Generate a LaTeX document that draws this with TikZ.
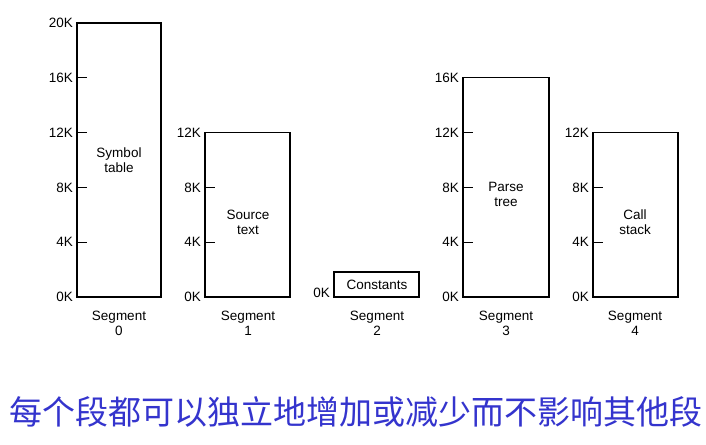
\documentclass[tikz,border=0pt]{standalone}
\usepackage{fontspec}
\setmainfont{Liberation Sans}
\newfontfamily\cjk{Noto Sans CJK SC}
\usetikzlibrary{positioning}
\definecolor{SegInk}{RGB}{0,0,0}
\definecolor{SegBlue}{RGB}{52,52,205}
\tikzset{
  seg/box/.style={
    draw=SegInk,
    line width=1.1pt,
    fill=white,
    inner sep=0pt,
    outer sep=0pt,
    anchor=south west
  },
  seg/tick/.style={draw=SegInk, line width=1.1pt},
  seg/ticklabel/.style={
    anchor=east,
    inner xsep=4pt,
    inner ysep=0pt,
    font=\fontsize{13.5}{15}\selectfont
  },
  seg/content/.style={
    anchor=north,
    align=center,
    inner sep=0pt,
    font=\fontsize{13.5}{15}\selectfont
  },
  seg/caption/.style={
    anchor=north,
    align=center,
    inner sep=0pt,
    font=\fontsize{13.5}{15}\selectfont
  },
  seg/note/.style={font=\cjk\fontsize{33}{38}\selectfont, text=SegBlue, inner sep=0pt}
}
\begin{document}
\begin{tikzpicture}[x=1pt,y=-1pt]
  \useasboundingbox (0,0) rectangle (706,444);

  % the five segments, 13.7 units per K
  \node[seg/box,minimum width=84pt,minimum height=274pt] (seg0) at (77,297) {};
  \node[seg/box,minimum width=85pt,minimum height=164.4pt] (seg1) at (205,297) {};
  \node[seg/box,minimum width=85pt,minimum height=25pt] (seg2) at (334,297) {};
  \node[seg/box,minimum width=86pt,minimum height=219.2pt] (seg3) at (463,297) {};
  \node[seg/box,minimum width=85pt,minimum height=164.4pt] (seg4) at (593,297) {};

  % ticks and scale labels
  \foreach \k in {4,8,12,16} \draw[seg/tick] (seg0.south west) ++(0,-13.7*\k) -- ++(10,0);
  \foreach \k in {4,8} \draw[seg/tick] (seg1.south west) ++(0,-13.7*\k) -- ++(10,0);
  \foreach \k in {4,8,12} \draw[seg/tick] (seg3.south west) ++(0,-13.7*\k) -- ++(10,0);
  \foreach \k in {4,8} \draw[seg/tick] (seg4.south west) ++(0,-13.7*\k) -- ++(10,0);

  \foreach \k in {0,4,8,12,16,20} \path (seg0.south west) ++(0,-13.7*\k) node[seg/ticklabel] (k0-\k) {\k K};
  \foreach \k in {0,4,8,12} \path (seg1.south west) ++(0,-13.7*\k) node[seg/ticklabel] (k1-\k) {\k K};
  \node[seg/ticklabel] (k2-0) at (334,293) {0K};
  \foreach \k in {0,4,8,12,16} \path (seg3.south west) ++(0,-13.7*\k) node[seg/ticklabel] (k3-\k) {\k K};
  \foreach \k in {0,4,8,12} \path (seg4.south west) ++(0,-13.7*\k) node[seg/ticklabel] (k4-\k) {\k K};

  % contents
  \node[seg/content] (symtab) at (119,148) {Symbol\\table};
  \node[seg/content] (srctext) at (248,210) {Source\\text};
  \node[seg/content] (consts) at (377,279.5) {Constants};
  \node[seg/content] (ptree) at (506,182) {Parse\\tree};
  \node[seg/content] (cstack) at (635,210) {Call\\stack};

  % captions
  \node[seg/caption] (cap0) at (119,311) {Segment\\0};
  \node[seg/caption] (cap1) at (248,311) {Segment\\1};
  \node[seg/caption] (cap2) at (377,311) {Segment\\2};
  \node[seg/caption] (cap3) at (506,311) {Segment\\3};
  \node[seg/caption] (cap4) at (635,311) {Segment\\4};

  \node[seg/note] (note) at (356,412) {每个段都可以独立地增加或减少而不影响其他段};
\end{tikzpicture}
\end{document}
